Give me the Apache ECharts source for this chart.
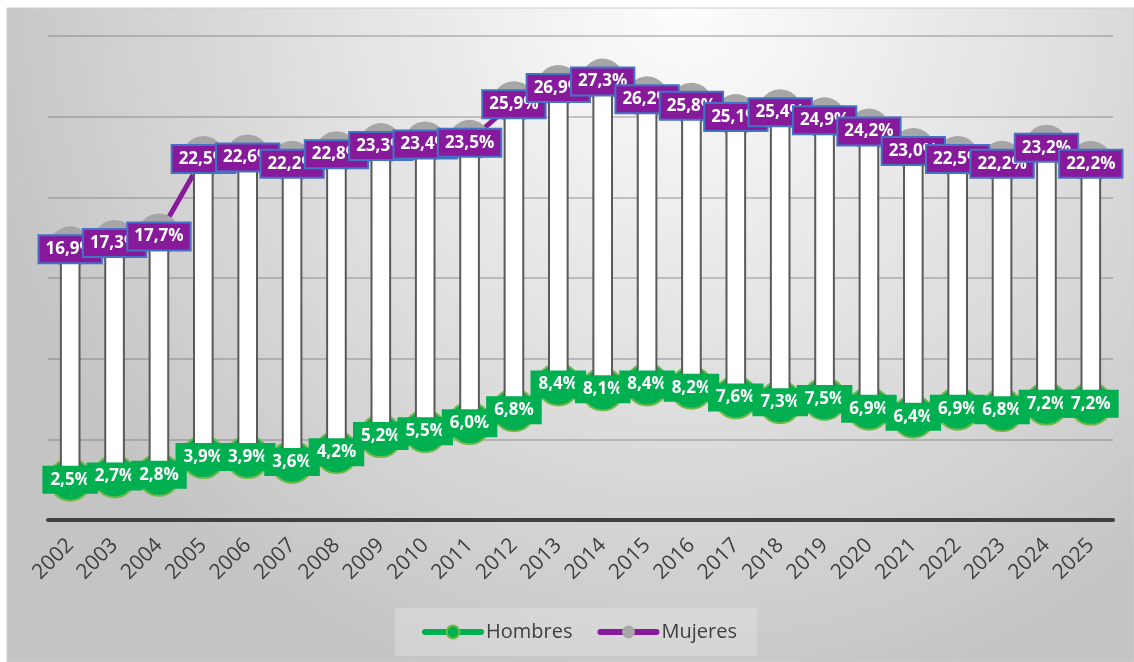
<!DOCTYPE html>
<html>
<head>
<meta charset="utf-8">
<script src="https://cdn.jsdelivr.net/npm/echarts@6/dist/echarts.min.js"></script>
<style>
  html, body { margin: 0; padding: 0; background: #ffffff; }
  #chart { width: 1134px; height: 662px; }
</style>
</head>
<body>
<div id="chart"></div>
<script>
// Años del eje de categorías
const years = ['2002','2003','2004','2005','2006','2007','2008','2009','2010','2011','2012','2013',
               '2014','2015','2016','2017','2018','2019','2020','2021','2022','2023','2024','2025'];

// Porcentajes por sexo
const hombres = [2.5, 2.7, 2.8, 3.9, 3.9, 3.6, 4.2, 5.2, 5.5, 6.0, 6.8, 8.4,
                 8.1, 8.4, 8.2, 7.6, 7.3, 7.5, 6.9, 6.4, 6.9, 6.8, 7.2, 7.2];
const mujeres = [16.9, 17.3, 17.7, 22.5, 22.6, 22.2, 22.8, 23.3, 23.4, 23.5, 25.9, 26.9,
                 27.3, 26.2, 25.8, 25.1, 25.4, 24.9, 24.2, 23.0, 22.5, 22.2, 23.2, 22.2];

// Escala del eje vertical (sin etiquetas visibles)
const yMin = 0, yMax = 30, yStep = 5;

const GREEN = '#00b050';
const PURPLE = '#861a9b';
const GRAY = '#a6a6a6';

const fmt = v => v.toFixed(1).replace('.', ',') + '%';

const chart = echarts.init(document.getElementById('chart'));

// Barras blancas entre el valor de hombres y el de mujeres
function renderSpan(params, api) {
  const x = api.value(0);
  const lo = api.coord([x, api.value(1)]);
  const hi = api.coord([x, api.value(2)]);
  const w = api.size([1, 0])[0] * 0.42;
  return {
    type: 'rect',
    shape: { x: lo[0] - w / 2, y: hi[1], width: w, height: lo[1] - hi[1] },
    style: { fill: '#ffffff', stroke: '#5a5a5a', lineWidth: 2 }
  };
}

const labelBase = {
  show: true,
  position: 'inside',
  color: '#ffffff',
  fontFamily: 'Open Sans',
  fontWeight: 'bold',
  fontSize: 17,
  formatter: p => fmt(p.value)
};

chart.setOption({
  animation: false,
  graphic: {
    elements: [{
      type: 'rect',
      z: -10,
      shape: { x: 7, y: 8, width: 1127, height: 654 },
      style: {
        fill: {
          type: 'radial', x: 0.6, y: 0.0, r: 1.1,
          colorStops: [
            { offset: 0, color: '#fdfdfd' },
            { offset: 0.45, color: '#e4e4e4' },
            { offset: 1, color: '#c4c4c4' }
          ]
        },
        stroke: '#cfcfcf',
        lineWidth: 1
      }
    }]
  },
  grid: { left: 48, right: 21, top: 36, bottom: 142, containLabel: false },
  legend: {
    data: ['Hombres', 'Mujeres'],
    left: 395,
    top: 608,
    padding: [14, 20, 14, 27],
    itemGap: 25,
    itemWidth: 56,
    itemHeight: 16,
    backgroundColor: 'rgba(255,255,255,0.22)',
    lineStyle: { width: 6, cap: 'round' },
    textStyle: { color: '#404040', fontFamily: 'Open Sans', fontSize: 20 }
  },
  xAxis: {
    type: 'category',
    data: years,
    boundaryGap: true,
    axisLine: { show: true, lineStyle: { color: '#404040', width: 4 } },
    axisTick: { show: false },
    axisLabel: {
      rotate: 45,
      margin: 22,
      color: '#404040',
      fontFamily: 'Open Sans',
      fontSize: 21
    }
  },
  yAxis: {
    type: 'value',
    min: yMin,
    max: yMax,
    interval: yStep,
    axisLabel: { show: false },
    axisLine: { show: false },
    axisTick: { show: false },
    splitLine: { lineStyle: { color: 'rgba(110,110,110,0.35)', width: 2 } }
  },
  series: [
    {
      name: 'Hombres',
      type: 'line',
      z: 2,
      data: hombres,
      symbol: 'circle',
      symbolSize: 42,
      lineStyle: { color: GREEN, width: 5 },
      itemStyle: { color: GREEN, borderColor: '#74b84a', borderWidth: 2 }
    },
    {
      name: 'Mujeres',
      type: 'line',
      z: 2,
      data: mujeres,
      symbol: 'circle',
      symbolSize: 42,
      lineStyle: { color: PURPLE, width: 5 },
      itemStyle: { color: GRAY }
    },
    {
      name: 'Rango',
      type: 'custom',
      z: 3,
      renderItem: renderSpan,
      data: years.map((y, i) => [i, hombres[i], mujeres[i]])
    },
    {
      name: 'Etiquetas hombres',
      type: 'scatter',
      z: 4,
      symbolSize: 1,
      itemStyle: { color: 'transparent', opacity: 1 },
      data: hombres,
      label: Object.assign({}, labelBase, {
        backgroundColor: GREEN,
        padding: [6, 8, 5, 8]
      })
    },
    {
      name: 'Etiquetas mujeres',
      type: 'scatter',
      z: 4,
      symbolSize: 1,
      itemStyle: { color: 'transparent', opacity: 1 },
      data: mujeres,
      label: Object.assign({}, labelBase, {
        backgroundColor: PURPLE,
        borderColor: '#4472c4',
        borderWidth: 2,
        padding: [5, 6, 4, 6],
        offset: [0, 2]
      })
    }
  ]
});
</script>
</body>
</html>
